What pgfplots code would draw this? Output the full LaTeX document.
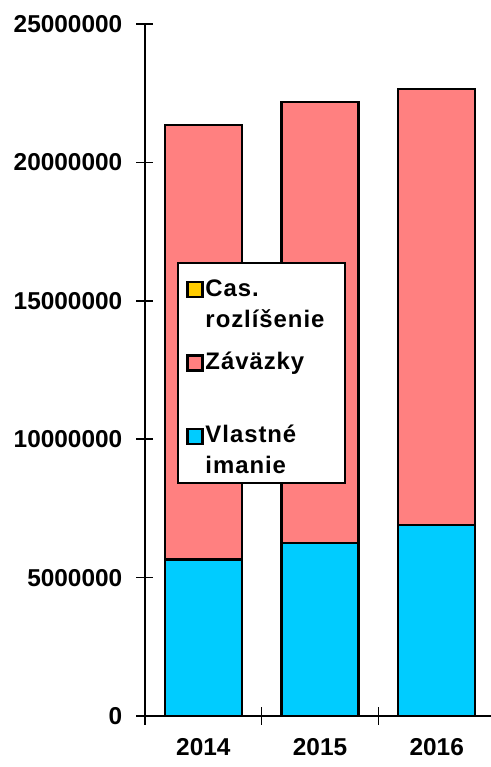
\documentclass[border=0pt]{standalone}
\usepackage{pgfplots}
\pgfplotsset{compat=1.18}
\usepackage{fontspec}
\setmainfont{Liberation Sans}
\newfontfamily\legfont[LetterSpace=4]{Liberation Sans}
\definecolor{vlast}{HTML}{00CCFF}
\definecolor{zav}{HTML}{FF8080}
\definecolor{cas}{HTML}{FFCC00}
\newcommand\leg[2]{\vbox{\baselineskip=31bp\hbox{\rule{0pt}{25bp}#1}\hbox{#2}}}
\begin{document}
\begin{tikzpicture}
\begin{axis}[
  scale only axis, width=346bp, height=692bp,
  anchor=south west, at={(0,0)},
  xmin=-0.5, xmax=2.465, ymin=0, ymax=25000000,
  ybar stacked, bar width=77bp,
  axis x line*=bottom, axis y line*=left,
  axis line style={line width=1.5bp, black},
  xtick={-0.5,0.5,1.5}, xticklabels={,,},
  extra x ticks={0,1,2}, extra x tick labels={2014,2015,2016},
  extra x tick style={major tick length=0pt},
  ytick={0,5000000,10000000,15000000,20000000,25000000},
  scaled y ticks=false,
  tick align=center,
  major tick length=17bp,
  tick style={line width=1.5bp, black},
  ticklabel style={font=\fontsize{24.5}{24}\selectfont\bfseries},
  yticklabel style={/pgf/number format/fixed, /pgf/number format/1000 sep={}, /pgf/number format/assume math mode=true, inner sep=0pt, xshift=-14bp},
  xticklabel style={inner sep=0pt, yshift=-22bp},
  every axis plot/.append style={draw=black, line width=2.5bp},
  reverse legend,
  legend image code/.code={\draw[#1, line width=2.5bp] (0bp,30bp) rectangle (15bp,45bp);},
  legend style={at={(axis description cs:0.0925,0.656)}, anchor=north west, draw=black, line width=2bp, fill=white,
    font=\fontsize{24}{30}\selectfont\bfseries\legfont,
    cells={anchor=base west}, row sep=12bp, inner xsep=8bp, inner ysep=6bp},
]
\addplot[fill=vlast] coordinates {(0,5650000) (1,6250000) (2,6900000)};
\addplot[fill=zav] coordinates {(0,15700000) (1,15930000) (2,15750000)};
\addplot[fill=cas] coordinates {(0,0) (1,0) (2,0)};
\addlegendentry{\leg{Vlastné}{imanie}}
\addlegendentry{\leg{Záväzky}{}}
\addlegendentry{\leg{Cas.}{rozlíšenie\hspace{11bp}}}
\end{axis}
\pgfresetboundingbox
\path[use as bounding box] (-145bp,-51bp) rectangle (346bp,716bp);
\end{tikzpicture}
\end{document}
